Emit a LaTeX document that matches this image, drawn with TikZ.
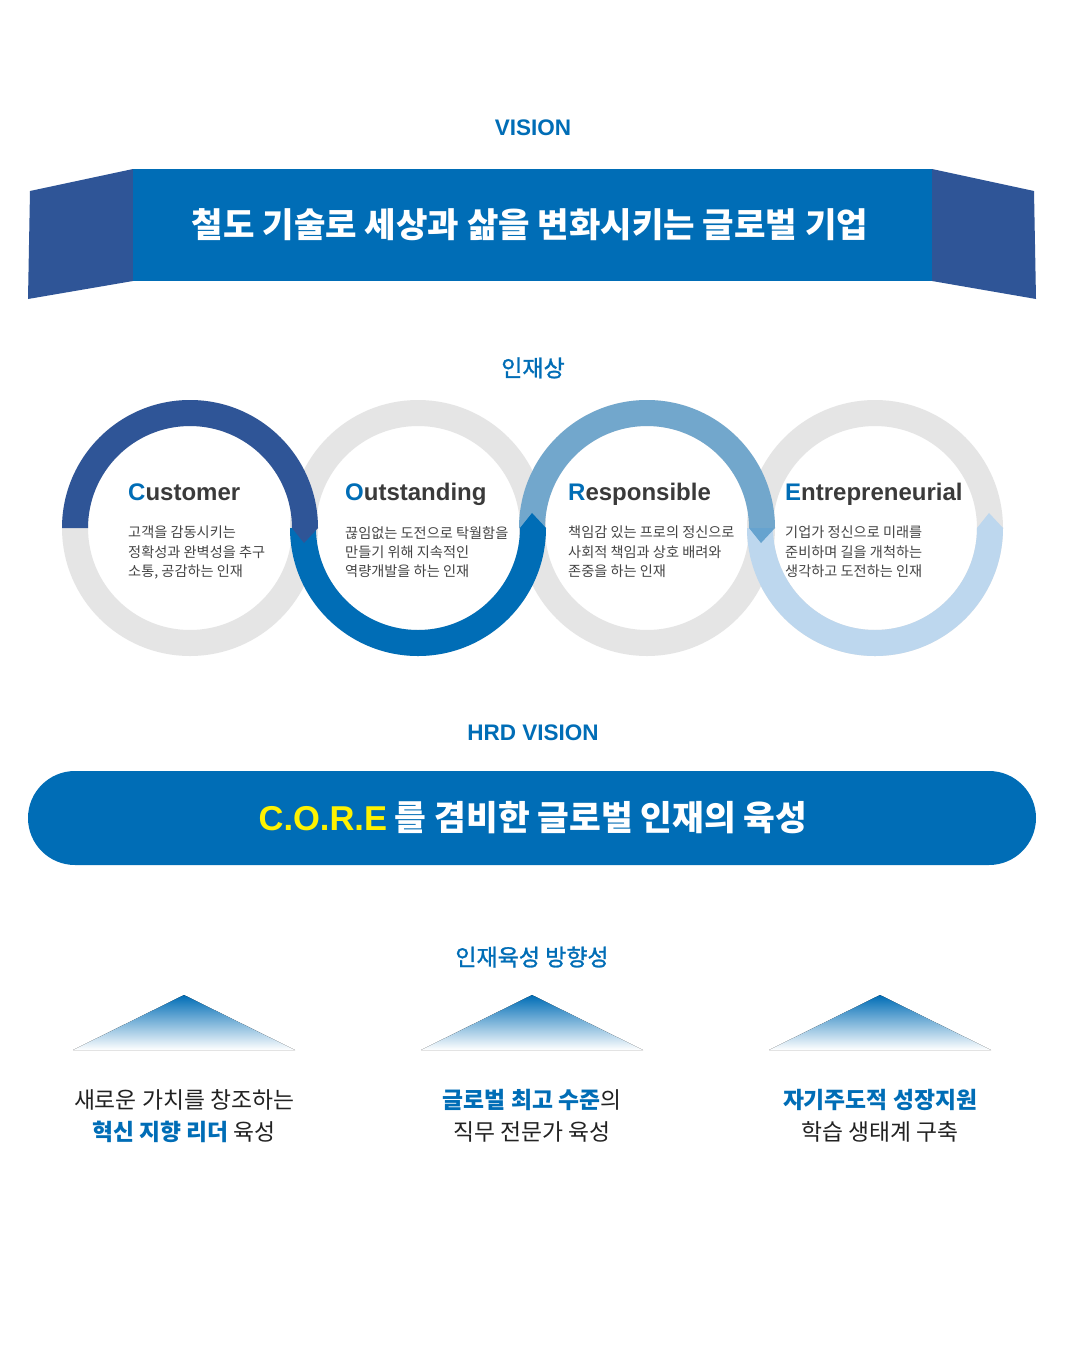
\documentclass[tikz,border=0pt]{standalone}
\usepackage{fontspec}
\setmainfont{Noto Sans CJK KR}
\newfontfamily\enfont{Liberation Sans}
\newfontfamily\medfont{Noto Sans CJK KR}[FakeBold=1.2]
\usetikzlibrary{calc}

\definecolor{coreblue}{RGB}{0,109,182}
\definecolor{flapblue}{RGB}{47,85,151}
\definecolor{ringgray}{RGB}{229,229,229}
\definecolor{skyblue}{RGB}{66,141,194}
\definecolor{paleblue}{RGB}{189,215,238}
\definecolor{titlegray}{RGB}{58,58,58}
\definecolor{bodygray}{RGB}{68,68,68}
\definecolor{textdark}{RGB}{34,34,34}
\definecolor{coreyellow}{RGB}{255,242,0}

\tikzset{
  heading/.style={text=coreblue,font=\enfont\fontsize{22.5}{26}\selectfont\bfseries},
  subheading/.style={text=coreblue,font=\medfont\fontsize{23}{26}\selectfont},
  ring/.style={draw=ringgray,line width=26pt},
  cardtitle/.style={anchor=base west,inner sep=0pt,text=titlegray,font=\enfont\fontsize{24}{27}\selectfont\bfseries},
  cardbody/.style={anchor=north west,inner sep=0pt,align=left,text=bodygray,font=\fontsize{14.2}{19.2}\selectfont},
  goal/.style={align=center,inner sep=0pt,text=textdark,font=\fontsize{22.8}{32}\selectfont},
  peak/.style={top color=coreblue,bottom color=white}
}

\begin{document}
\begin{tikzpicture}[x=1pt,y=1pt]
    \useasboundingbox[fill=white] (0,0) rectangle (1068,-1358);

    % vision banner
    \node[heading] (vision) at (533,-128) {VISION};
    \fill[flapblue] (30,-191) -- (133,-169) -- (133,-281) -- (28,-299) -- cycle;
    \fill[flapblue] (932,-169) -- (1034,-191) -- (1036,-299) -- (932,-281) -- cycle;
    \fill[coreblue] (133,-169) rectangle (932,-281);
    \node[text=white,font=\fontsize{34.2}{38}\selectfont\bfseries] (visiontext) at (530,-225) {철도 기술로 세상과 삶을 변화시키는 글로벌 기업};

    % talent rings
    \node[subheading] (talent) at (533,-368) {인재상};
    \coordinate (c1) at (190,-528);
    \coordinate (c2) at (418,-528);
    \coordinate (c3) at (647,-528);
    \coordinate (c4) at (875,-528);
    \draw[ring] (c1) circle[radius=115];
    \draw[ring] (c2) circle[radius=115];
    \draw[ring] (c3) circle[radius=115];
    \draw[ring] (c4) circle[radius=115];
    \fill[paleblue] ($(c4)+(180:128)$) arc[start angle=180,end angle=360,radius=128]
        -- ($(c4)+(7.5:115)$) -- ($(c4)+(0:102)$) arc[start angle=360,end angle=180,radius=102] -- cycle;
    \fill[skyblue,opacity=0.7] ($(c3)+(180:128)$) arc[start angle=180,end angle=0,radius=128]
        -- ($(c3)+(-7.5:115)$) -- ($(c3)+(0:102)$) arc[start angle=0,end angle=180,radius=102] -- cycle;
    \fill[coreblue] ($(c2)+(180:128)$) arc[start angle=180,end angle=360,radius=128]
        -- ($(c2)+(7.5:115)$) -- ($(c2)+(0:102)$) arc[start angle=360,end angle=180,radius=102] -- cycle;
    \fill[flapblue] ($(c1)+(180:128)$) arc[start angle=180,end angle=0,radius=128]
        -- ($(c1)+(-7.5:115)$) -- ($(c1)+(0:102)$) arc[start angle=0,end angle=180,radius=102] -- cycle;

    \node[cardtitle] (customer) at (128,-500) {\textcolor{coreblue}{C}ustomer};
    \node[cardbody] (customertext) at (128,-526) {고객을 감동시키는\\정확성과 완벽성을 추구\\소통, 공감하는 인재};
    \node[cardtitle] (outstanding) at (345,-500) {\textcolor{coreblue}{O}utstanding};
    \node[cardbody] (outstandingtext) at (345,-526) {끊임없는 도전으로 탁월함을\\만들기 위해 지속적인\\역량개발을 하는 인재};
    \node[cardtitle] (responsible) at (568,-500) {\textcolor{coreblue}{R}esponsible};
    \node[cardbody] (responsibletext) at (568,-526) {책임감 있는 프로의 정신으로\\사회적 책임과 상호 배려와\\존중을 하는 인재};
    \node[cardtitle] (entrepreneurial) at (785,-500) {\textcolor{coreblue}{E}ntrepreneurial};
    \node[cardbody] (entrepreneurialtext) at (785,-526) {기업가 정신으로 미래를\\준비하며 길을 개척하는\\생각하고 도전하는 인재};

    % hrd vision
    \node[heading] (hrd) at (533,-733) {HRD VISION};
    \fill[coreblue,rounded corners=47pt] (28,-771) rectangle (1036,-865);
    \node[text=white,font=\fontsize{34.5}{38}\selectfont\bfseries] (hrdtext) at (533,-818)
        {\textcolor{coreyellow}{\enfont C.O.R.E} 를 겸비한 글로벌 인재의 육성};

    % directions
    \node[subheading] (direction) at (532,-957) {인재육성 방향성};
    \fill[peak] (184,-995) -- (295,-1050) -- (73,-1050) -- cycle;
    \fill[peak] (532,-995) -- (643,-1050) -- (421,-1050) -- cycle;
    \fill[peak] (880,-995) -- (991,-1050) -- (769,-1050) -- cycle;
    \node[goal] (leader) at (184,-1116) {새로운 가치를 창조하는\\\textcolor{coreblue}{\bfseries 혁신 지향 리더} 육성};
    \node[goal] (expert) at (532,-1116) {\textcolor{coreblue}{\bfseries 글로벌 최고 수준}의\\직무 전문가 육성};
    \node[goal] (ecosystem) at (880,-1116) {\textcolor{coreblue}{\bfseries 자기주도적 성장지원}\\학습 생태계 구축};
\end{tikzpicture}
\end{document}
